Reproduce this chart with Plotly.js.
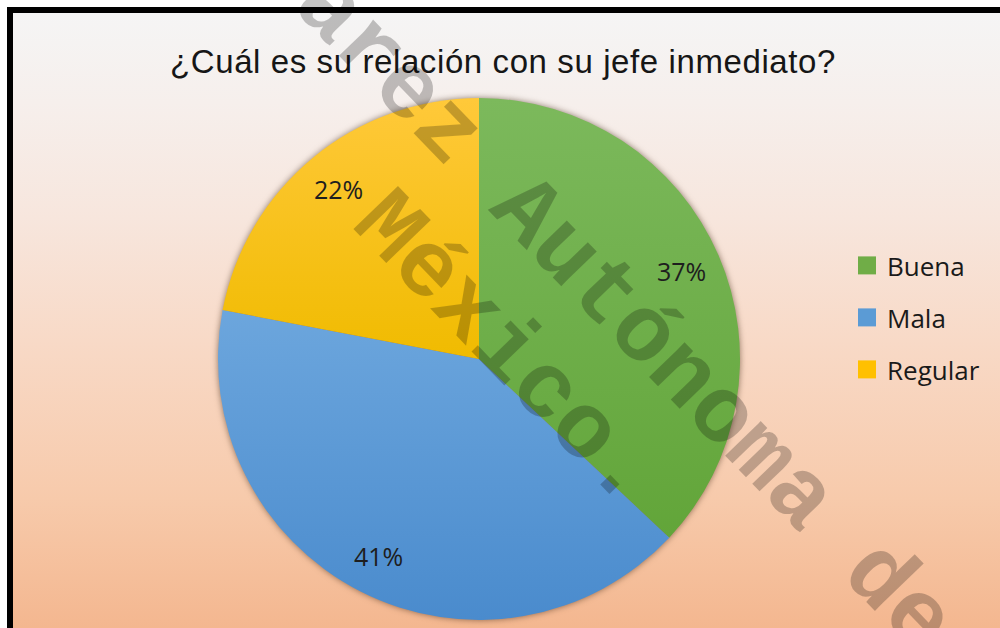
<!DOCTYPE html>
<html><head><meta charset="utf-8">
<script src="https://cdn.plot.ly/plotly-3.0.1.min.js"></script>
<style>
html,body{margin:0;padding:0;background:#fff;}
#wrap{position:relative;width:1000px;height:628px;overflow:hidden;background:#fff;}
#frame{position:absolute;left:7px;top:7px;width:1000px;height:640px;border-left:6px solid #000;border-top:6px solid #000;
 background:linear-gradient(to bottom,#f5f5f5 0%,#f6efec 14%,#f7e6dd 32%,#f8d9c6 52%,#f7caab 76%,#f3b38a 100%);}
#chart{position:absolute;left:0;top:0;width:1000px;height:628px;}
.pielayer{filter:drop-shadow(0px 0px 3px rgba(70,45,25,0.6));}
.gtitle{letter-spacing:0.6px;}
</style></head>
<body><div id="wrap"><div id="frame"></div><div id="chart"></div></div>
<script>
const titleText = '¿Cuál es su relación con su jefe inmediato?';
const categories = ['Buena', 'Mala', 'Regular'];
const values = [37, 41, 22];
const sliceColors = ['#70ad47', '#5b9bd5', '#ffc000'];
const sliceTop = ['#7cb95c', '#6ca6dd', '#ffc93a'];
const sliceBottom = ['#62a539', '#4a8bcd', '#f0bb00'];
const watermarkLines = ['árez Autónoma de', 'México.'];

const W = 1000, H = 628;
const dom = {x: [0.218, 0.740], y: [8 / H, 530 / H]};

const trace = {
  type: 'pie',
  labels: categories,
  values: values,
  sort: false,
  direction: 'clockwise',
  rotation: 0,
  marker: {colors: sliceColors, line: {width: 0}},
  textinfo: 'none',
  hoverinfo: 'none',
  domain: dom
};

// percent labels placed along each slice's mid-angle (Excel style, near the rim)
const total = values.reduce(function (a, b) { return a + b; }, 0);
const cxP = (dom.x[0] + dom.x[1]) / 2, cyP = (dom.y[0] + dom.y[1]) / 2;
const rPx = Math.min((dom.x[1] - dom.x[0]) * W, (dom.y[1] - dom.y[0]) * H) / 2;
const labelR = 0.845 * rPx;
let cum = 0;
const labelAnn = values.map(function (v) {
  const frac = (cum + v / 2) / total;
  cum += v;
  const th = 2 * Math.PI * frac;
  return {
    text: Math.round(100 * v / total) + '%',
    xref: 'paper', yref: 'paper',
    x: cxP + labelR * Math.sin(th) / W,
    y: cyP + labelR * Math.cos(th) / H,
    xanchor: 'center', yanchor: 'middle', showarrow: false,
    font: {family: 'Open Sans', size: 25, color: '#1e1e1e'}
  };
});

const wmFont = {family: 'Liberation Mono, monospace', size: 94, color: 'rgba(0,0,0,0.23)', weight: 'bold'};
const layout = {
  width: W, height: H,
  margin: {l: 0, r: 0, t: 0, b: 0},
  paper_bgcolor: 'rgba(0,0,0,0)',
  plot_bgcolor: 'rgba(0,0,0,0)',
  title: {text: titleText, x: 0.503, xanchor: 'center', y: 1 - 61 / H, yanchor: 'middle',
          font: {family: 'Liberation Sans, Arial, sans-serif', size: 33, color: '#161616'}},
  showlegend: true,
  legend: {x: 0.847, xanchor: 'left', y: 1 - 242 / H, yanchor: 'top',
           font: {family: 'Open Sans', size: 26, color: '#1a1a1a'}, bgcolor: 'rgba(0,0,0,0)'},
  annotations: labelAnn.concat([
    {text: watermarkLines[0], xref: 'paper', yref: 'paper', x: 623 / W, y: 1 - 314 / H,
     xanchor: 'center', yanchor: 'middle', textangle: 46, showarrow: false, font: wmFont},
    {text: watermarkLines[1], xref: 'paper', yref: 'paper', x: 505 / W, y: 1 - 350 / H,
     xanchor: 'center', yanchor: 'middle', textangle: 46, showarrow: false, font: wmFont}
  ])
};

Plotly.newPlot('chart', [trace], layout, {staticPlot: true, displayModeBar: false}).then(function () {
  // Excel-like vertical gradient per slice
  const svg = document.querySelector('#chart .main-svg');
  const NS = 'http://www.w3.org/2000/svg';
  let defs = svg.querySelector('defs');
  if (!defs) { defs = document.createElementNS(NS, 'defs'); svg.insertBefore(defs, svg.firstChild); }
  document.querySelectorAll('#chart .pielayer .slice path.surface').forEach(function (p, i) {
    if (i >= sliceTop.length) return;
    const g = document.createElementNS(NS, 'linearGradient');
    g.setAttribute('id', 'slicegrad' + i);
    g.setAttribute('x1', '0'); g.setAttribute('y1', '0');
    g.setAttribute('x2', '0'); g.setAttribute('y2', '1');
    [[0, sliceTop[i]], [1, sliceBottom[i]]].forEach(function (s) {
      const st = document.createElementNS(NS, 'stop');
      st.setAttribute('offset', s[0]);
      st.setAttribute('stop-color', s[1]);
      g.appendChild(st);
    });
    defs.appendChild(g);
    p.style.fill = 'url(#slicegrad' + i + ')';
  });

  // legend spacing and symbol size like the original
  const items = document.querySelectorAll('.legend .traces');
  if (!items.length) return;
  const m = /translate\(\s*([-\d.]+)[ ,]+([-\d.]+)\s*\)/.exec(items[0].getAttribute('transform') || '');
  if (!m) return;
  const x0 = parseFloat(m[1]), y0 = parseFloat(m[2]);
  items.forEach(function (g, i) {
    g.setAttribute('transform', 'translate(' + x0 + ',' + (y0 + i * 52) + ')');
  });
  document.querySelectorAll('.legend .legendpoints path').forEach(function (p) {
    p.setAttribute('transform', (p.getAttribute('transform') || '') + ' scale(1.5)');
  });
  document.querySelectorAll('.legend .bg').forEach(function (b) { b.setAttribute('height', 220); });
  document.querySelectorAll('#chart clipPath rect').forEach(function (r) {
    const pid = r.parentNode.id || '';
    if (pid.indexOf('legend') === 0) r.setAttribute('height', 220);
  });
  document.querySelectorAll('.legend .scrollbox').forEach(function (s) { s.removeAttribute('clip-path'); });
});
</script>
</body></html>
